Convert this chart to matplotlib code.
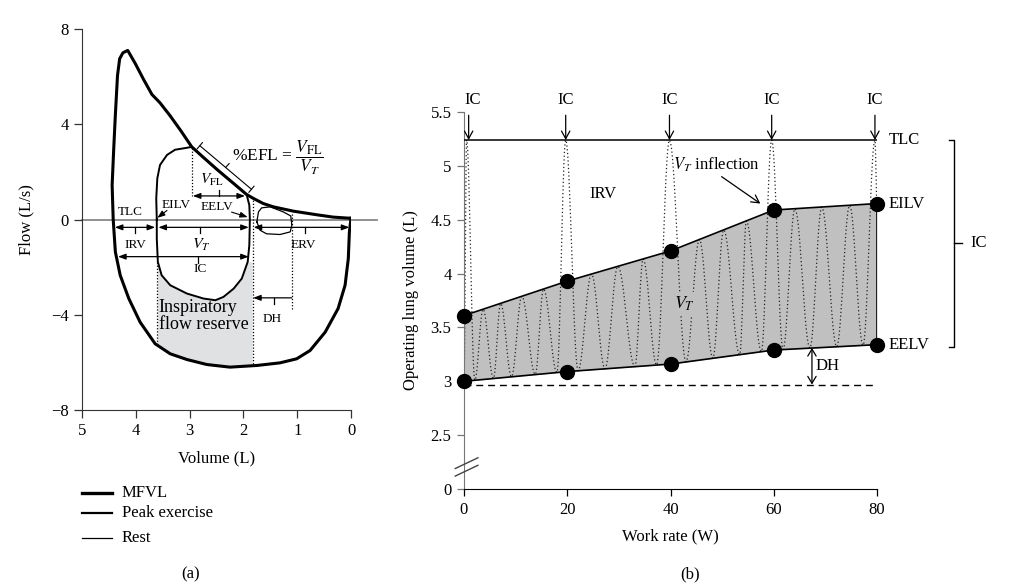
import numpy as np
import matplotlib
matplotlib.use("Agg")
import matplotlib.pyplot as plt
from matplotlib.lines import Line2D

plt.rcParams["font.family"] = ["Liberation Serif", "DejaVu Serif"]
plt.rcParams["mathtext.fontset"] = "stix"
plt.rcParams["font.size"] = 12

# ---------------- panel (a): flow-volume loops ----------------
mfvl_vol = [0.00, 0.33, 0.64, 1.07, 1.44, 1.63, 1.81, 1.94, 2.18, 2.49, 2.74, 2.96,
            3.17, 3.36, 3.55, 3.70, 3.86, 4.01, 4.15, 4.24, 4.30, 4.34, 4.38, 4.41,
            4.44, 4.42, 4.38, 4.29, 4.13, 3.92, 3.64, 3.36, 3.05, 2.68, 2.25, 1.75,
            1.32, 1.01, 0.76, 0.48, 0.24, 0.11, 0.05, 0.03, 0.00]
mfvl_flow = [0.05, 0.10, 0.20, 0.35, 0.53, 0.67, 0.88, 1.05, 1.51, 2.10, 2.60, 3.05,
             3.75, 4.35, 4.90, 5.25, 5.90, 6.55, 7.10, 7.00, 6.75, 6.05, 4.39, 2.99,
             1.44, 0.00, -1.36, -2.34, -3.32, -4.31, -5.22, -5.64, -5.88, -6.09, -6.20, -6.13,
             -6.02, -5.85, -5.50, -4.73, -3.74, -2.76, -1.64, -0.52, 0.05]

peak_vol = [3.61, 3.62, 3.60, 3.55, 3.42, 3.27, 3.08, 2.96, 2.74, 2.49, 2.18, 1.94, 1.89,
            1.88, 1.89, 1.92, 2.03, 2.18, 2.37, 2.52, 2.74, 3.05, 3.36, 3.52, 3.59, 3.61, 3.61]
peak_flow = [0.00, 0.88, 1.73, 2.29, 2.71, 2.93, 3.00, 3.05, 2.60, 2.10, 1.51, 1.05, 0.60,
             0.00, -1.08, -1.78, -2.48, -2.90, -3.25, -3.39, -3.32, -3.11, -2.76, -2.34, -1.78, -0.80, 0.00]

rest_vol = [1.75, 1.72, 1.66, 1.50, 1.26, 1.12, 1.10, 1.13, 1.32, 1.57, 1.69, 1.75]
rest_flow = [-0.10, 0.32, 0.49, 0.53, 0.32, 0.15, -0.24, -0.52, -0.63, -0.60, -0.45, -0.10]

# ---------------- panel (b): operating lung volumes ----------------
work = [0, 20, 40, 60, 80]
eilv = [3.61, 3.93, 4.21, 4.59, 4.65]
eelv = [3.00, 3.09, 3.16, 3.29, 3.34]
tlc = 5.24
eelv_rest = 2.97
ic_x = [0.9, 19.7, 39.8, 59.6, 79.6]

# turning points of the tidal breathing trace (E = EELV, I = EILV, T = TLC)
breath_x = [0, 0.5, 2.1, 3.7, 5.7, 7.1, 9.2, 11.2, 13.8, 15.4, 18.0, 19.7,
            22.1, 24.7, 27.3, 29.8, 33.1, 34.7, 37.3, 39.8,
            43.0, 45.6, 48.2, 50.3, 53.4, 54.7, 57.6, 59.6,
            61.8, 64.1, 67.0, 69.3, 72.2, 74.7, 77.3, 79.6, 80.0]
breath_lvl = ["E", "T", "E", "I", "E", "I", "E", "I", "E", "I", "E", "T",
              "E", "I", "E", "I", "E", "I", "E", "T",
              "E", "I", "E", "I", "E", "I", "E", "T",
              "E", "I", "E", "I", "E", "I", "E", "T", "I"]

fig = plt.figure(figsize=(10.25, 5.86), dpi=100)
W, H = 1025.0, 586.0

# ============ (a) ============
ax = fig.add_axes([82 / W, 1 - 410 / H, 269 / W, 381 / H])
ax.set_xlim(5, 0)
ax.set_ylim(-8, 8)
for s in ["top", "right"]:
    ax.spines[s].set_visible(False)
ax.spines["left"].set_color("#333333")
ax.spines["bottom"].set_color("#333333")
ax.set_xticks([5, 4, 3, 2, 1, 0])
ax.set_yticks([8, 4, 0, -4, -8])
ax.set_yticklabels(["8", "4", "0", "\u22124", "\u22128"])
ax.tick_params(length=5.5, width=0.9, labelsize=12, pad=4, color="#333333")
ax.set_xlabel("Volume (L)", fontsize=12, labelpad=8)
ax.set_ylabel("Flow (L/s)", fontsize=12, labelpad=12)

ax.plot([5, -0.48], [0, 0], color="#888888", lw=1.3, clip_on=False, zorder=1)

# inspiratory flow reserve
pv = np.array(peak_vol); pf = np.array(peak_flow)
lo = (pf <= -1.5)
pv_lo, pf_lo = pv[lo], pf[lo]
o = np.argsort(pv_lo)
mv = np.array(mfvl_vol); mf = np.array(mfvl_flow)
mlo = (mf < -4) & (mv > 1.0) & (mv < 4.0)
mv_lo, mf_lo = mv[mlo], mf[mlo]
o2 = np.argsort(mv_lo)
xs = np.linspace(1.84, 3.60, 100)
ax.fill_between(xs, np.interp(xs, mv_lo[o2], mf_lo[o2]), np.interp(xs, pv_lo[o], pf_lo[o]),
                color="#e0e1e3", lw=0, zorder=0)

ax.plot(mfvl_vol, mfvl_flow, color="black", lw=2.2, solid_joinstyle="round", zorder=3)
ax.plot(peak_vol, peak_flow, color="black", lw=1.4, solid_joinstyle="round", zorder=3)
ax.plot(rest_vol, rest_flow, color="black", lw=0.9, zorder=3)

# dotted guides
dot = dict(color="black", lw=0.9, ls=(0, (1, 1.5)), zorder=2)
ax.plot([2.96, 2.96], [3.0, 1.0], **dot)
ax.plot([3.60, 3.60], [-1.78, -5.25], **dot)
ax.plot([1.83, 1.83], [0.95, -6.15], **dot)
ax.plot([1.10, 1.10], [0.25, -3.8], **dot)


def harrow(x0, x1, y, tx, tdir, style="<|-|>"):
    ax.annotate("", xy=(x1, y), xytext=(x0, y),
                arrowprops=dict(arrowstyle=style + ",head_length=0.45,head_width=0.17",
                                lw=0.9, color="black", shrinkA=0, shrinkB=0,
                                mutation_scale=10))
    ax.plot([tx, tx], [y, y + tdir * 0.25], color="black", lw=0.9)


harrow(4.39, 3.64, -0.33, 4.01, -1)
harrow(3.58, 1.90, -0.33, 2.81, -1)
harrow(1.81, 0.03, -0.33, 0.86, -1)
harrow(4.33, 1.90, -1.56, 2.84, -1)
harrow(2.94, 1.97, 0.99, 2.45, 1)
harrow(1.10, 1.82, -3.29, 1.44, -1, style="-|>")

fs = 9.5
ax.text(4.11, 0.33, "TLC", fontsize=fs, ha="center", va="center")
ax.text(4.01, -1.07, "IRV", fontsize=fs, ha="center", va="center")
ax.text(2.78, -1.05, "$V_T$", fontsize=fs + 2, ha="center", va="center")
ax.text(2.81, -2.07, "IC", fontsize=fs, ha="center", va="center")
ax.text(0.89, -1.07, "ERV", fontsize=fs, ha="center", va="center")
ax.text(1.46, -4.18, "DH", fontsize=fs, ha="center", va="center")
ax.text(2.59, 1.67, "$V_{\\rm FL}$", fontsize=fs + 1.5, ha="center", va="center")
ax.text(3.25, 0.61, "EILV", fontsize=fs, ha="center", va="center")
ax.text(2.50, 0.54, "EELV", fontsize=fs, ha="center", va="center")
ax.annotate("", xy=(3.60, 0.07), xytext=(3.42, 0.38),
            arrowprops=dict(arrowstyle="-|>,head_length=0.45,head_width=0.17", lw=0.8,
                            color="black", shrinkA=0, shrinkB=0, mutation_scale=10))
ax.annotate("", xy=(1.92, 0.10), xytext=(2.22, 0.31),
            arrowprops=dict(arrowstyle="-|>,head_length=0.45,head_width=0.17", lw=0.8,
                            color="black", shrinkA=0, shrinkB=0, mutation_scale=10))
ax.text(2.74, -4.05, "Inspiratory\nflow reserve", fontsize=13, ha="center", va="center",
        linespacing=0.95, multialignment="left")

# %EFL bracket
ax.annotate("", xy=(1.85, 1.27), xytext=(2.81, 3.10),
            arrowprops=dict(arrowstyle="|-|,widthA=0.3,widthB=0.3", lw=0.8, color="black",
                            shrinkA=0, shrinkB=0, mutation_scale=10))
ax.annotate("", xy=(2.33, 2.185), xytext=(2.6, 2.9), textcoords="offset points",
            arrowprops=dict(arrowstyle="-", lw=0.8, color="black", shrinkA=0, shrinkB=0))
ax.text(2.22, 2.6, "%EFL = $\\dfrac{V_{\\rm FL}}{V_T}$", fontsize=12.5, ha="left", va="center")

# legend
for yy, lw, lab in [(493, 2.4, "MFVL"), (513, 1.6, "Peak exercise"), (538, 0.9, "Rest")]:
    fig.add_artist(Line2D([82 / W, 112 / W], [1 - yy / H, 1 - yy / H], color="black", lw=lw))
    fig.text(122 / W, 1 - yy / H, lab, fontsize=12, ha="left", va="center")
fig.text(191 / W, 1 - 574 / H, "(a)", fontsize=12, ha="center", va="center")

# ============ (b) ============
bx = fig.add_axes([464 / W, 1 - 489 / H, 413 / W, 377 / H])
bx.set_xlim(0, 80)
bx.set_ylim(2.0, 5.5)
for s in ["top", "right"]:
    bx.spines[s].set_visible(False)
bx.spines["left"].set_color("#777777")
bx.set_xticks(work)
bx.set_yticks([2.0, 2.5, 3.0, 3.5, 4.0, 4.5, 5.0, 5.5])
bx.set_yticklabels(["0", "2.5", "3", "3.5", "4", "4.5", "5", "5.5"])
bx.tick_params(length=5, width=0.9, labelsize=12, pad=4)
bx.tick_params(axis="y", color="#777777")
bx.set_xlabel("Work rate (W)", fontsize=12, labelpad=8)
bx.set_ylabel("Operating lung volume (L)", fontsize=12, labelpad=8)

bx.fill_between(work, eelv, eilv, color="#c0c0c0", lw=0, zorder=1)

# tidal breathing trace
bxs, bys = [], []
for i in range(len(breath_x) - 1):
    pts = []
    for j in (i, i + 1):
        xx = breath_x[j]
        lv = breath_lvl[j]
        if lv == "E":
            yy = np.interp(xx, work, eelv)
        elif lv == "I":
            yy = np.interp(xx, work, eilv)
        else:
            yy = tlc
        pts.append((xx, yy))
    t = np.linspace(0, 1, 16)
    bxs.extend(pts[0][0] + (pts[1][0] - pts[0][0]) * t)
    bys.extend(pts[0][1] + (pts[1][1] - pts[0][1]) * (1 - np.cos(np.pi * t)) / 2)
bx.plot(bxs, bys, color="#222222", lw=0.9, ls=(0, (1, 2)), zorder=2)

bx.plot(work, eilv, color="black", lw=1.2, zorder=3)
bx.plot(work, eelv, color="black", lw=1.2, zorder=3)
bx.plot([work[-1], work[-1]], [eelv[-1], eilv[-1]], color="black", lw=1.2, zorder=3)
bx.plot(work, eilv, "o", color="black", ms=10, zorder=4, clip_on=False)
bx.plot(work, eelv, "o", color="black", ms=10, zorder=4, clip_on=False)

bx.plot([0, 80], [tlc, tlc], color="black", lw=1.1, zorder=3)
bx.plot([0, 80.6], [eelv_rest, eelv_rest], color="black", lw=1.0, ls=(0, (5, 3.5)), zorder=3)

for k, xx in enumerate(ic_x):
    bx.annotate("", xy=(xx, tlc), xytext=(xx, 5.47), annotation_clip=False,
                arrowprops=dict(arrowstyle="->,head_length=0.55,head_width=0.3", lw=0.9,
                                color="black", shrinkA=0, shrinkB=0, mutation_scale=10))
    bx.text(xx + (0.8 if k == 0 else 0), 5.61, "IC", fontsize=12, ha="center", va="center")

bx.text(82.3, tlc, "TLC", fontsize=12, ha="left", va="center")
bx.text(82.3, eilv[-1], "EILV", fontsize=12, ha="left", va="center")
bx.text(82.3, eelv[-1], "EELV", fontsize=12, ha="left", va="center")

# IC bracket
bx.plot([93.9, 95.0, 95.0, 93.9], [tlc, tlc, 3.32, 3.32], color="black", lw=1.0, clip_on=False)
bx.plot([95.0, 96.4], [(tlc + 3.32) / 2] * 2, color="black", lw=1.0, clip_on=False)
bx.text(98.1, (tlc + 3.32) / 2, "IC", fontsize=12, ha="left", va="center")

# DH
bx.annotate("", xy=(67.4, eelv_rest), xytext=(67.4, 3.31),
            arrowprops=dict(arrowstyle="<->,head_length=0.5,head_width=0.3", lw=0.9,
                            color="black", shrinkA=0, shrinkB=0, mutation_scale=10))
bx.text(68.0, 3.14, "DH", fontsize=12, ha="left", va="center")

bx.text(27.0, 4.74, "IRV", fontsize=12, ha="center", va="center")
bx.text(42.7, 3.72, "$V_T$", fontsize=13, ha="center", va="center",
        bbox=dict(facecolor="#c0c0c0", edgecolor="none", pad=1.5), zorder=5)
bx.text(40.4, 5.01, "$V_T$ inflection", fontsize=12, ha="left", va="center")
bx.annotate("", xy=(57.4, 4.65), xytext=(49.9, 4.90),
            arrowprops=dict(arrowstyle="->,head_length=0.55,head_width=0.3", lw=0.9,
                            color="black", shrinkA=0, shrinkB=0, mutation_scale=10))

# axis break marks
for y0 in (2.12, 2.19):
    bx.plot([-1.7, 2.7], [y0, y0 + 0.1], color="#444444", lw=1.0, clip_on=False, zorder=5)

fig.text(690 / W, 1 - 574 / H, "(b)", fontsize=12, ha="center", va="center")

fig.savefig("out.png", dpi=100)
plt.close(fig)
